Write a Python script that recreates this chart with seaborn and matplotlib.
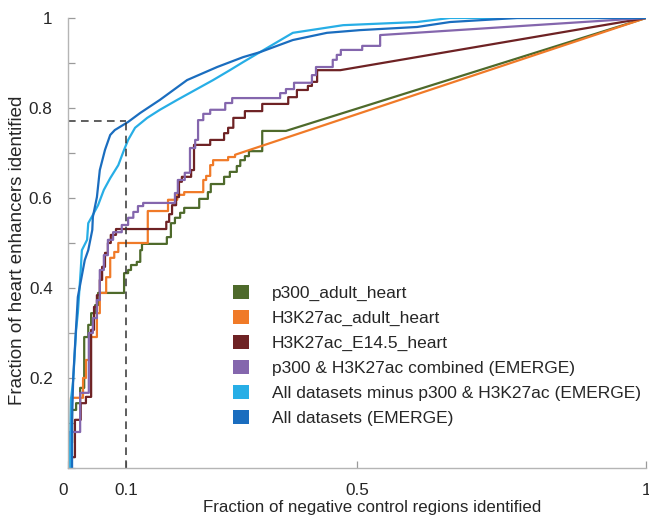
import numpy as np
import pandas as pd
import matplotlib
matplotlib.use("Agg")
import matplotlib.pyplot as plt
from matplotlib.patches import Patch
import seaborn as sns

# cut-off marked with the dashed guide lines
cutoff_fpr = 0.1
cutoff_tpr = 0.77

series_names = [
    "p300_adult_heart",
    "H3K27ac_adult_heart",
    "H3K27ac_E14.5_heart",
    "p300 & H3K27ac combined (EMERGE)",
    "All datasets minus p300 & H3K27ac (EMERGE)",
    "All datasets (EMERGE)",
]
colors = ["#4e6a2b", "#f07a28", "#6e2224", "#8466ad", "#27aee6", "#1a6dbf"]

# stepped ROC curves: (fpr, tpr) after each vertical jump, then straight to (1, 1)
p300_fpr = [0.003, 0.003, 0.007, 0.014, 0.021, 0.028, 0.035, 0.040, 0.047, 0.052, 0.097, 0.104,
            0.109, 0.119, 0.125, 0.128, 0.171, 0.178, 0.185, 0.194, 0.201, 0.227, 0.242, 0.247,
            0.270, 0.280, 0.292, 0.298, 0.306, 0.313, 0.336, 0.377]
p300_tpr = [0.000, 0.056, 0.129, 0.144, 0.178, 0.291, 0.318, 0.344, 0.362, 0.389, 0.433, 0.440,
            0.451, 0.458, 0.484, 0.498, 0.513, 0.544, 0.556, 0.567, 0.578, 0.598, 0.613, 0.631,
            0.647, 0.658, 0.671, 0.684, 0.693, 0.704, 0.749, 0.749]

h3_adult_fpr = [0.000, 0.000, 0.005, 0.026, 0.031, 0.038, 0.050, 0.055, 0.066, 0.073, 0.080, 0.087,
                0.138, 0.173, 0.189, 0.201, 0.234, 0.239, 0.246, 0.251, 0.277, 0.289]
h3_adult_tpr = [0.000, 0.051, 0.156, 0.200, 0.240, 0.291, 0.344, 0.389, 0.424, 0.467, 0.480, 0.500,
                0.571, 0.596, 0.607, 0.613, 0.640, 0.649, 0.673, 0.684, 0.691, 0.696]

h3_e145_fpr = [0.003, 0.003, 0.012, 0.022, 0.031, 0.040, 0.045, 0.050, 0.055, 0.059, 0.064, 0.069,
               0.074, 0.083, 0.170, 0.175, 0.180, 0.187, 0.192, 0.197, 0.213, 0.218, 0.246, 0.270,
               0.277, 0.286, 0.306, 0.336, 0.381, 0.396, 0.415, 0.422, 0.431, 0.471]
h3_e145_tpr = [0.000, 0.024, 0.107, 0.144, 0.158, 0.307, 0.358, 0.384, 0.418, 0.447, 0.478, 0.500,
               0.518, 0.531, 0.547, 0.564, 0.584, 0.602, 0.636, 0.647, 0.662, 0.718, 0.729, 0.744,
               0.756, 0.778, 0.793, 0.809, 0.824, 0.840, 0.849, 0.858, 0.884, 0.884]

combined_fpr = [0.003, 0.003, 0.021, 0.036, 0.043, 0.050, 0.055, 0.062, 0.069, 0.078, 0.093, 0.104,
                0.113, 0.121, 0.130, 0.185, 0.190, 0.202, 0.211, 0.220, 0.225, 0.234, 0.246, 0.272,
                0.284, 0.367, 0.377, 0.391, 0.422, 0.429, 0.458, 0.465, 0.472, 0.509, 0.540]
combined_tpr = [0.000, 0.080, 0.167, 0.300, 0.333, 0.373, 0.440, 0.473, 0.507, 0.524, 0.540, 0.556,
                0.569, 0.582, 0.589, 0.611, 0.640, 0.656, 0.711, 0.729, 0.773, 0.787, 0.796, 0.811,
                0.822, 0.833, 0.842, 0.856, 0.873, 0.891, 0.907, 0.918, 0.929, 0.938, 0.962]

# finely stepped curves, traced as polylines
minus_fpr = [0.003, 0.005, 0.009, 0.014, 0.017, 0.022, 0.024, 0.033, 0.035, 0.042, 0.052, 0.062,
             0.073, 0.087, 0.097, 0.104, 0.116, 0.137, 0.159, 0.189, 0.220, 0.251, 0.280, 0.303,
             0.332, 0.389, 0.476, 0.604, 0.661, 1.000]
minus_tpr = [0.000, 0.151, 0.196, 0.307, 0.344, 0.440, 0.484, 0.507, 0.544, 0.560, 0.584, 0.618,
             0.644, 0.673, 0.707, 0.729, 0.756, 0.778, 0.796, 0.818, 0.840, 0.862, 0.884, 0.902,
             0.924, 0.967, 0.984, 0.991, 1.000, 1.000]

all_fpr = [0.007, 0.007, 0.009, 0.012, 0.017, 0.029, 0.035, 0.042, 0.043, 0.050, 0.055, 0.064,
           0.073, 0.081, 0.104, 0.125, 0.159, 0.206, 0.258, 0.303, 0.332, 0.389, 0.448, 0.505,
           0.604, 0.661, 0.777, 1.000]
all_tpr = [0.000, 0.107, 0.200, 0.269, 0.380, 0.462, 0.484, 0.529, 0.558, 0.602, 0.662, 0.707,
           0.740, 0.751, 0.769, 0.789, 0.818, 0.862, 0.891, 0.913, 0.924, 0.951, 0.967, 0.973,
           0.980, 0.991, 1.000, 1.000]


def stepped(fpr, tpr):
    xs, ys = [fpr[0]], [tpr[0]]
    for i in range(1, len(fpr)):
        xs += [fpr[i], fpr[i]]
        ys += [tpr[i - 1], tpr[i]]
    return xs + [1.0], ys + [1.0]


curves = [stepped(p300_fpr, p300_tpr), stepped(h3_adult_fpr, h3_adult_tpr),
          stepped(h3_e145_fpr, h3_e145_tpr), stepped(combined_fpr, combined_tpr),
          (minus_fpr, minus_tpr), (all_fpr, all_tpr)]

frames = []
for name, (xs, ys) in zip(series_names, curves):
    frames.append(pd.DataFrame({"fpr": xs, "tpr": ys, "dataset": name}))
roc = pd.concat(frames, ignore_index=True)

sns.set_style("white")
plt.rcParams["font.family"] = ["Liberation Sans", "DejaVu Sans"]

fig = plt.figure(figsize=(6.49, 5.15), dpi=100)
ax = fig.add_axes([0.1048, 0.0913, 0.8906, 0.8738])

sns.lineplot(data=roc, x="fpr", y="tpr", hue="dataset", hue_order=series_names,
             palette=colors, sort=False, estimator=None, linewidth=1.6, legend=False, ax=ax)

ax.hlines(cutoff_tpr, 0, cutoff_fpr, colors="#333333", linestyles=(0, (5, 3.5)), linewidth=1.1)
ax.vlines(cutoff_fpr, 0, cutoff_tpr, colors="#333333", linestyles=(0, (5, 3.5)), linewidth=1.1)

ax.set_xlim(0, 1)
ax.set_ylim(0, 1)
ax.set_xticks([0, 0.1, 0.5, 1])
ax.set_xticklabels(["0", "0.1", "0.5", "1"])
ax.get_xticklabels()[0].set_horizontalalignment("right")
yt = np.round(np.arange(0, 1.01, 0.1), 1)
ax.set_yticks(yt)
ax.set_yticklabels(["" if (i % 2 or i == 0) else f"{v:g}" for i, v in enumerate(yt)])
ax.tick_params(direction="in", length=5, width=0.9, color="#9a9a9a", labelsize=12.3,
               pad=11, bottom=True, left=True)

for side in ["top", "right"]:
    ax.spines[side].set_visible(False)
for side in ["left", "bottom"]:
    ax.spines[side].set_color("#b5b5b5")
    ax.spines[side].set_linewidth(1.0)

ax.set_xlabel("Fraction of negative control regions identified", fontsize=12.2, labelpad=1)
ax.set_ylabel("Fraction of heart enhancers identified", fontsize=13.5, labelpad=2)
ax.xaxis.label.set_x(0.526)
ax.yaxis.label.set_y(0.484)

handles = [Patch(facecolor=c, edgecolor="none") for c in colors]
fig.legend(handles, series_names, loc="upper left", bbox_to_anchor=(0.359, 0.447),
           frameon=False, fontsize=12.5, handlelength=0.92, handleheight=0.85,
           handletextpad=1.3, labelspacing=0.52, borderpad=0, borderaxespad=0)

fig.savefig("out.png", dpi=100)
